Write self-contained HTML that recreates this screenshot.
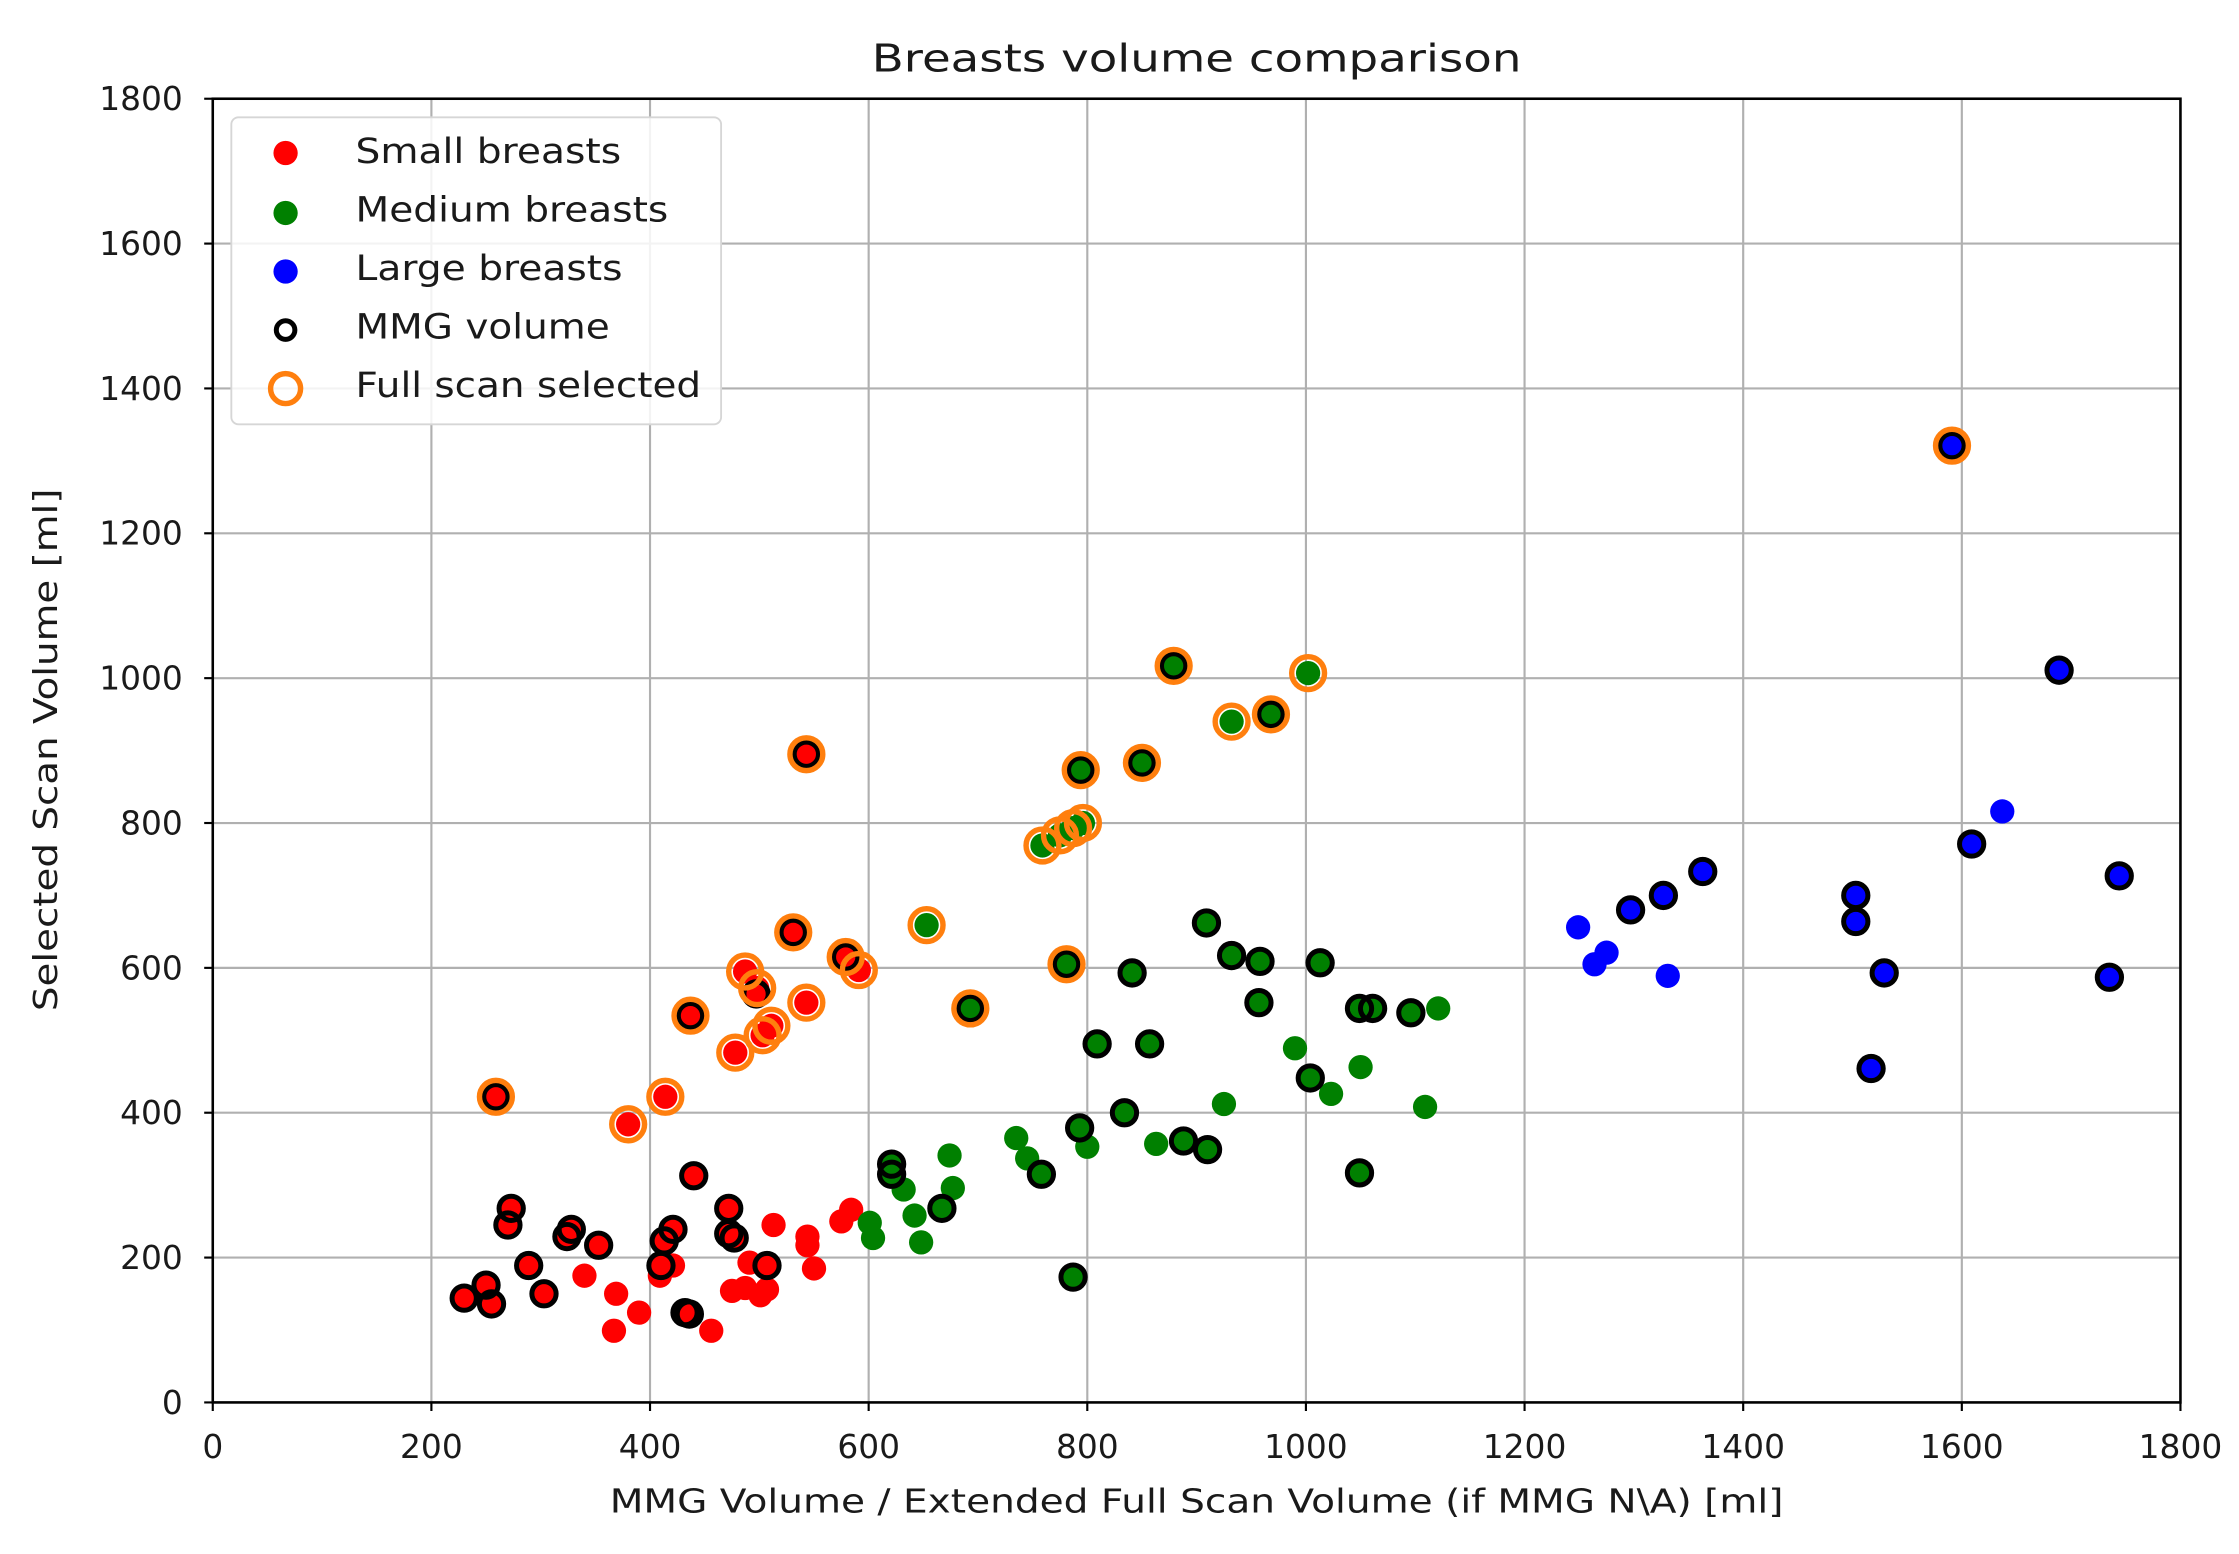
<!DOCTYPE html>
<html><head><meta charset="utf-8"><style>
html,body{margin:0;padding:0;background:#fff}
svg{display:block}
text{font-family:"DejaVu Sans","Liberation Sans",sans-serif;fill:#1a1a1a}
</style></head><body>
<svg id="chart" width="2239" height="1554" viewBox="0 0 1568 1088" xmlns="http://www.w3.org/2000/svg">
<rect width="1568" height="1088" fill="#fff"/>
<g id="grid"></g>
<g id="marks"></g>
<rect x="149" y="69" width="1378" height="913" fill="none" stroke="#000" stroke-width="1.8"/>
<g id="ticks"></g>
<text x="838" y="50" font-size="27" text-anchor="middle" textLength="455" lengthAdjust="spacingAndGlyphs">Breasts volume comparison</text>
<text x="838" y="1059" font-size="23" text-anchor="middle" textLength="822" lengthAdjust="spacingAndGlyphs">MMG Volume / Extended Full Scan Volume (if MMG N\A) [ml]</text>
<text transform="translate(40,525) rotate(-90)" font-size="23" text-anchor="middle" textLength="366" lengthAdjust="spacingAndGlyphs">Selected Scan Volume [ml]</text>
<g>
<rect x="162" y="82" width="343" height="215" rx="5" fill="#fff" fill-opacity="0.85" stroke="#d6d6d6" stroke-width="1.3"/>
<g><circle cx="200" cy="107" r="8.5" fill="#ff0000"/><text x="249" y="114" font-size="24" textLength="186" lengthAdjust="spacingAndGlyphs">Small breasts</text></g>
<g><circle cx="200" cy="149" r="8.5" fill="#008000"/><text x="249" y="155" font-size="24" textLength="219" lengthAdjust="spacingAndGlyphs">Medium breasts</text></g>
<g><circle cx="200" cy="190" r="8.5" fill="#0000ff"/><text x="249" y="196" font-size="24" textLength="187" lengthAdjust="spacingAndGlyphs">Large breasts</text></g>
<g><circle cx="200" cy="231" r="6.5" fill="none" stroke="#000" stroke-width="3.5"/><text x="249" y="237" font-size="24" textLength="178" lengthAdjust="spacingAndGlyphs">MMG volume</text></g>
<g><circle cx="200" cy="272" r="10.5" fill="none" stroke="#ff7f0e" stroke-width="3.8"/><text x="249" y="278" font-size="24" textLength="242" lengthAdjust="spacingAndGlyphs">Full scan selected</text></g>
</g>
</svg>
<script>
const xTicks = [0,200,400,600,800,1000,1200,1400,1600,1800];
const yTicks = [0,200,400,600,800,1000,1200,1400,1600,1800];
// category: S small, M medium, L large ; ring: 0 none, 1 MMG, 2 full scan, 3 both
const xs = [230,250,255,270,273,289,303,324,328,353,410,413,421,432,436,440,472,472,477,507,497,
 340,369,367,409,421,390,456,475,487,501,491,513,544,550,575,584,544,507,
 259,380,414,437,478,487,498,503,511,543,531,543,579,591,
 621,621,667,758,787,793,809,841,834,857,888,910,909,932,958,957,1004,1013,1049,1061,1096,1049,
 601,604,632,642,648,674,677,735,745,800,863,925,990,1023,1050,1109,1121,
 653,693,781,759,775,787,796,794,850,879,932,968,1002,
 1249,1264,1275,1331,1637,
 1297,1327,1363,1503,1503,1529,1517,1609,1744,1735,1689,1591];
const ys = [144,162,136,245,268,189,150,229,239,217,189,223,239,124,122,313,268,233,227,189,564,
 175,150,99,175,189,124,99,154,158,148,193,245,229,185,250,266,217,156,
 422,384,422,534,483,595,572,507,520,895,649,552,615,597,
 329,315,268,315,173,379,495,593,400,495,361,349,662,617,609,552,448,607,544,544,538,317,
 248,227,294,258,221,341,296,365,337,353,357,412,489,426,463,408,544,
 659,544,605,769,783,793,800,873,883,1017,940,950,1007,
 656,605,621,589,816,
 680,700,733,700,664,593,461,771,727,587,1011,1321];
const cats = ["S","S","S","S","S","S","S","S","S","S","S","S","S","S","S","S","S","S","S","S","S",
 "S","S","S","S","S","S","S","S","S","S","S","S","S","S","S","S","S","S",
 "S","S","S","S","S","S","S","S","S","S","S","S","S","S",
 "M","M","M","M","M","M","M","M","M","M","M","M","M","M","M","M","M","M","M","M","M","M",
 "M","M","M","M","M","M","M","M","M","M","M","M","M","M","M","M","M",
 "M","M","M","M","M","M","M","M","M","M","M","M","M",
 "L","L","L","L","L",
 "L","L","L","L","L","L","L","L","L","L","L","L"];
const rings = [1,1,1,1,1,1,1,1,1,1,1,1,1,1,1,1,1,1,1,1,1,
 0,0,0,0,0,0,0,0,0,0,0,0,0,0,0,0,0,0,
 3,2,2,3,2,2,2,2,2,3,3,2,3,2,
 1,1,1,1,1,1,1,1,1,1,1,1,1,1,1,1,1,1,1,1,1,1,
 0,0,0,0,0,0,0,0,0,0,0,0,0,0,0,0,0,
 2,3,3,2,2,2,2,3,3,3,2,3,2,
 0,0,0,0,0,
 1,1,1,1,1,1,1,1,1,1,1,3];

const NS="http://www.w3.org/2000/svg";
const L=149,R=1527,T=69,B=982;
const sx=v=>L+(v-0)/1800*(R-L);
const sy=v=>B-(v-0)/1800*(B-T);
function mk(tag,attrs,parent){const e=document.createElementNS(NS,tag);for(const k in attrs)e.setAttribute(k,attrs[k]);parent.appendChild(e);return e;}
const grid=document.getElementById('grid'),ticks=document.getElementById('ticks'),marks=document.getElementById('marks');
xTicks.forEach(v=>{
 const g=mk('line',{x1:sx(v),x2:sx(v),y1:T,y2:B,stroke:'#b0b0b0','stroke-width':1.5},grid);
 
 
 const t=mk('line',{x1:sx(v),x2:sx(v),y1:B,y2:B+6,stroke:'#000','stroke-width':1.5},ticks);
 
 
 const l=mk('text',{x:sx(v),y:B+39,'font-size':23,'text-anchor':'middle'},ticks);
 l.textContent=v;
 
 
});
yTicks.forEach(v=>{
 const g=mk('line',{x1:L,x2:R,y1:sy(v),y2:sy(v),stroke:'#b0b0b0','stroke-width':1.5},grid);
 
 
 const t=mk('line',{x1:L-6,x2:L,y1:sy(v),y2:sy(v),stroke:'#000','stroke-width':1.5},ticks);
 
 
 const l=mk('text',{x:L-21,y:sy(v)+8,'font-size':23,'text-anchor':'end'},ticks);
 l.textContent=v;
 
 
});
const col={S:'#ff0000',M:'#008000',L:'#0000ff'};
['S','M','L'].forEach(c=>{xs.forEach((x,i)=>{if(cats[i]!==c)return;
 const p=mk('circle',{cx:sx(x),cy:sy(ys[i]),r:8.5,fill:col[c]},marks);
 
 
});});
xs.forEach((x,i)=>{if(!(rings[i]&1))return;
 const p=mk('circle',{cx:sx(x),cy:sy(ys[i]),r:8.5,fill:'none',stroke:'#000','stroke-width':3.5},marks);
 
 
});
xs.forEach((x,i)=>{if(!(rings[i]&2))return;
 const p=mk('circle',{cx:sx(x),cy:sy(ys[i]),r:11.5,fill:'none',stroke:'#ff7f0e','stroke-width':3.8},marks);
 
 
});
</script>
</body></html>
